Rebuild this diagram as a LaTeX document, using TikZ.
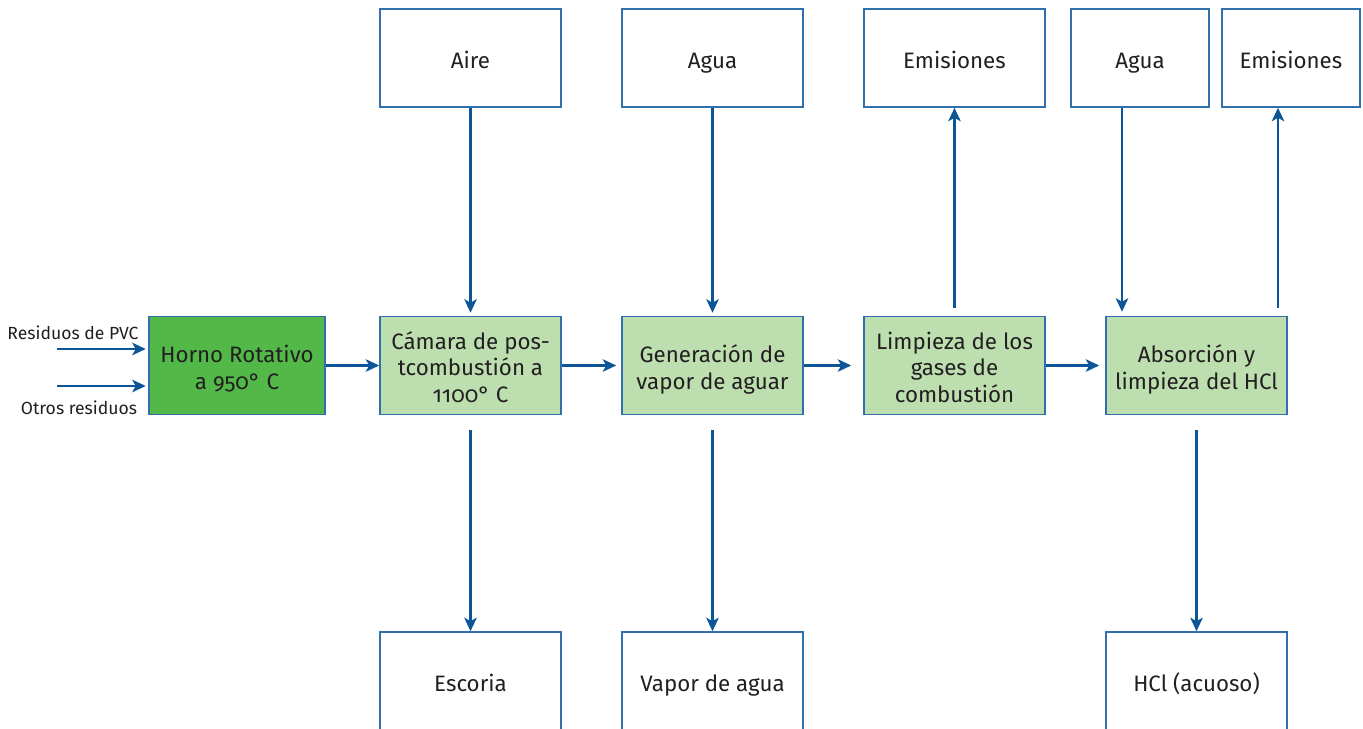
\documentclass[tikz,border=0pt]{standalone}
\usepackage{fontspec}
\setmainfont[Numbers=OldStyle]{Fira Sans}
\usetikzlibrary{arrows.meta}

\definecolor{flowblue}{RGB}{12,86,152}
\definecolor{boxblue}{RGB}{48,112,172}
\definecolor{stagegreen}{RGB}{189,223,176}
\definecolor{ovengreen}{RGB}{82,184,72}
\definecolor{textgray}{RGB}{35,31,32}
\newcommand{\topstrut}{\rule{0pt}{16.2pt}}

\begin{document}
\begin{tikzpicture}[x=0.02cm,y=-0.02cm,>={Stealth[length=0.27cm,width=0.25cm,inset=0.07cm]},
  box/.style={draw=boxblue,line width=0.9pt,minimum width=3.62cm,minimum height=1.96cm,
    inner sep=1pt,align=center,text=textgray,font=\fontsize{12.7}{15.2}\selectfont,
    execute at begin node={\topstrut},execute at end node=\strut},
  narrow/.style={box,minimum width=2.76cm},
  stage/.style={box,fill=stagegreen},
  flow/.style={->,draw=flowblue,line width=1.2pt},
  lbl/.style={text=textgray,font=\fontsize{10}{12}\selectfont,inner sep=0pt}]
  \useasboundingbox (0,0) rectangle (1363,729);

  % what goes in at the top
  \node[box] (aire) at (470.5,58) {Aire};
  \node[box] (agua) at (712.5,58) {Agua};
  \node[box] (emisiones) at (954.5,58) {Emisiones};
  \node[narrow] (agua2) at (1140,58) {Agua};
  \node[narrow] (emisiones2) at (1291,58) {Emisiones};

  % process line
  \node[stage,fill=ovengreen,minimum width=3.52cm] (horno) at (237,365.5) {\topstrut Horno Rotativo\\a 950° C};
  \node[stage] (camara) at (470.5,365.5) {\topstrut Cámara de pos-\\tcombustión a\\1100° C};
  \node[stage] (generacion) at (712.5,365.5) {\topstrut Generación de\\vapor de aguar};
  \node[stage] (limpieza) at (954.5,365.5) {\topstrut Limpieza de los\\gases de\\combustión};
  \node[stage] (absorcion) at (1196.5,365.5) {\topstrut Absorción y\\limpieza del HCl};

  % what comes out at the bottom
  \node[box] (escoria) at (470.5,681) {Escoria};
  \node[box] (vapor) at (712.5,681) {Vapor de agua};
  \node[box] (hcl) at (1196.5,681) {HCl (acuoso)};

  % residues fed to the oven
  \node[lbl] (pvclbl) at (73,333) {Residuos de PVC};
  \node[lbl] (otroslbl) at (79,408) {Otros residuos};
  \coordinate (pvc) at (57,349);
  \coordinate (otros) at (57,386);
  \coordinate (aguax) at (1122,0);
  \coordinate (emisx) at (1278,0);
  \draw[flow,shorten >=0.05cm] (pvc) -- (pvc -| horno.west);
  \draw[flow,shorten >=0.05cm] (otros) -- (otros -| horno.west);

  % main flow
  \draw[flow] (horno) -- (camara);
  \draw[flow,shorten >=0.1cm] (camara) -- (generacion);
  \draw[flow,shorten >=0.24cm] (generacion) -- (limpieza);
  \draw[flow,shorten >=0.12cm] (limpieza) -- (absorcion);

  % side streams
  \draw[flow,shorten >=0.06cm] (aire) -- (camara);
  \draw[flow,shorten >=0.06cm] (agua) -- (generacion);
  \draw[flow,shorten <=0.16cm] (limpieza) -- (emisiones);
  \draw[flow,shorten >=0.08cm] (agua2.south -| aguax) -- (absorcion.north -| aguax);
  \draw[flow,shorten <=0.16cm] (absorcion.north -| emisx) -- (emisiones2.south -| emisx);
  \draw[flow,shorten <=0.3cm] (camara) -- (escoria);
  \draw[flow,shorten <=0.3cm] (generacion) -- (vapor);
  \draw[flow,shorten <=0.3cm] (absorcion) -- (hcl);
\end{tikzpicture}
\end{document}
